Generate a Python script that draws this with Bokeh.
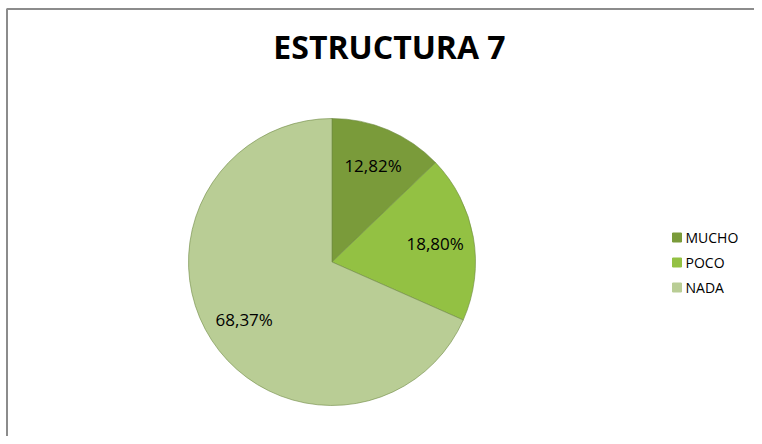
import math
from bokeh.plotting import figure
from bokeh.models import Range1d, ColumnDataSource
from bokeh.core.properties import value
from bokeh.embed import file_html
from bokeh.resources import INLINE

# ---- data ----
title_text = "ESTRUCTURA 7"
categories = ["MUCHO", "POCO", "NADA"]
percents = [12.82, 18.80, 68.37]
colors = ["#7A9B3A", "#93C143", "#B9CD95"]

# ---- layout (pixels) ----
W, H = 754, 436
cx, cy, R = 331.5, 174.5, 143.5

p = figure(width=W, height=H, output_backend="svg", toolbar_location=None,
           x_range=Range1d(0, W), y_range=Range1d(0, H),
           x_axis_type=None, y_axis_type=None, min_border=0)
p.grid.visible = False
p.outline_line_color = None
p.background_fill_color = "white"
p.border_fill_color = "white"

# chart-area frame (right and bottom edges fall outside the view)
p.quad(left=6.5, right=W + 50, top=H - 8.5, bottom=-50,
       fill_color=None, line_color="#8c8c8c", line_width=2)

total = sum(percents)
starts, ends, lx, ly, labels = [], [], [], [], []
a = math.pi / 2
for v in percents:
    span = 2 * math.pi * v / total
    starts.append(a)
    ends.append(a - span)
    mid = a - span / 2
    lx.append(cx + 0.73 * R * math.cos(mid))
    ly.append(cy + 0.73 * R * math.sin(mid))
    labels.append(f"{v:.2f}".replace(".", ",") + "%")
    a -= span

src = ColumnDataSource(dict(start=starts, end=ends, color=colors,
                            lx=lx, ly=ly, label=labels, cat=categories))

p.wedge(x=cx, y=cy, radius=R, start_angle="start", end_angle="end",
        direction="clock", fill_color="color", line_color="#6f8a45",
        line_width=1, line_alpha=0.6, source=src)

p.text(x="lx", y="ly", text="label", source=src, text_align="center",
       text_baseline="middle", text_font=value("Open Sans"),
       text_font_size="17px", text_color="#000000")

# title
p.text(x=[389], y=[H - 46], text=[title_text], text_align="center",
       text_baseline="middle", text_font=value("Open Sans"),
       text_font_style="bold", text_font_size="32px", text_color="#000000")

# legend
leg_y = [H - 237 - 25 * i for i in range(len(categories))]
leg = ColumnDataSource(dict(y=leg_y, color=colors, cat=categories))
p.scatter(x=676.5, y="y", marker="square", size=9, fill_color="color",
          line_color="color", source=leg)
p.text(x=685, y="y", text="cat", source=leg, text_align="left",
       text_baseline="middle", text_font=value("Open Sans"),
       text_font_size="14px", text_color="#000000")

open("out.html", "w").write(file_html(p, INLINE))
